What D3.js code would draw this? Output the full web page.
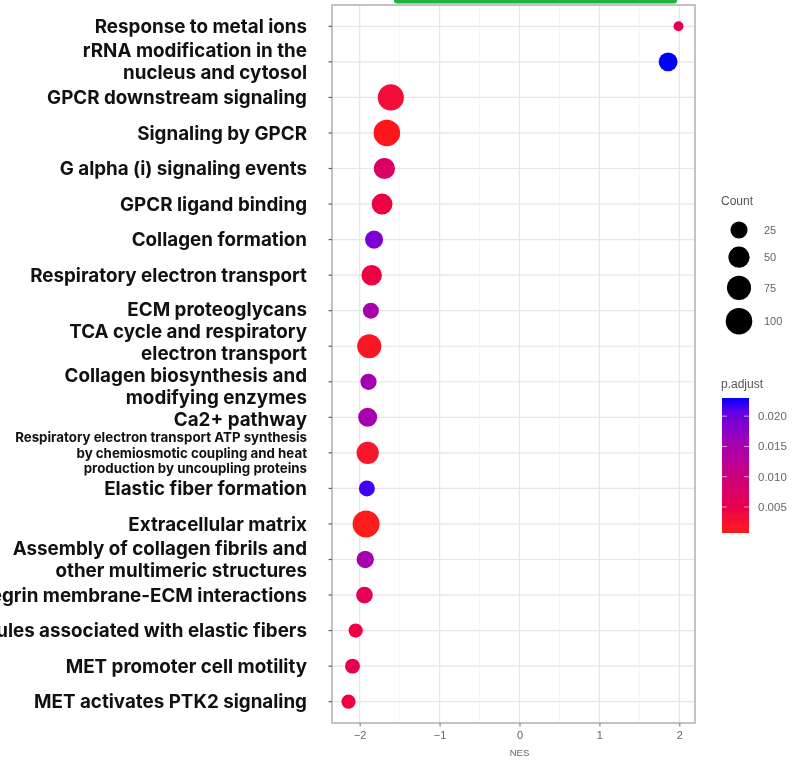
<!DOCTYPE html>
<html>
<head>
<meta charset="utf-8">
<script src="https://cdn.jsdelivr.net/npm/d3@7"></script>
<style>
  html, body { margin: 0; padding: 0; background: #fff; }
  svg { display: block; }
</style>
</head>
<body>
<svg id="chart" width="806" height="765"></svg>
<script>
// Reactome pathways (top to bottom); "\n" marks a line break in the label
const pathways = [
  "Response to metal ions",
  "rRNA modification in the\nnucleus and cytosol",
  "GPCR downstream signaling",
  "Signaling by GPCR",
  "G alpha (i) signaling events",
  "GPCR ligand binding",
  "Collagen formation",
  "Respiratory electron transport",
  "ECM proteoglycans",
  "TCA cycle and respiratory\nelectron transport",
  "Collagen biosynthesis and\nmodifying enzymes",
  "Ca2+ pathway",
  "Respiratory electron transport ATP synthesis\nby chemiosmotic coupling and heat\nproduction by uncoupling proteins",
  "Elastic fiber formation",
  "Extracellular matrix",
  "Assembly of collagen fibrils and\nother multimeric structures",
  "Integrin membrane-ECM interactions",
  "Molecules associated with elastic fibers",
  "MET promoter cell motility",
  "MET activates PTK2 signaling"
];

// Normalised enrichment score
const nes = [1.99, 1.86, -1.61, -1.66, -1.69, -1.72, -1.82, -1.85, -1.86, -1.88,
             -1.89, -1.90, -1.90, -1.91, -1.92, -1.93, -1.94, -2.05, -2.09, -2.14];

// Gene count in each pathway
const counts = [8, 35, 95, 100, 50, 48, 30, 45, 20, 75,
                21, 35, 58, 20, 105, 26, 23, 14, 16, 14];

// Adjusted p-values
const pAdjust = [0.0055, 0.023, 0.003, 0.001, 0.0075, 0.004, 0.019, 0.004, 0.015, 0.0015,
                 0.0155, 0.015, 0.002, 0.022, 0.0007, 0.015, 0.006, 0.004, 0.005, 0.004];

// Axis and legend breaks
const xTicks = [-2, -1, 0, 1, 2];
const xTickLabels = ["\u22122", "\u22121", "0", "1", "2"];
const countBreaks = [25, 50, 75, 100];
const pBreaks = [0.020, 0.015, 0.010, 0.005];
const pBreakLabels = ["0.020", "0.015", "0.010", "0.005"];

const svg = d3.select("#chart");
svg.append("rect").attr("width", 806).attr("height", 765).attr("fill", "#fff");

const defs = svg.append("defs");
defs.append("filter").attr("id", "soft")
  .attr("x", "-5%").attr("y", "-5%").attr("width", "110%").attr("height", "110%")
  .append("feGaussianBlur").attr("stdDeviation", 0.75);

const panel = { left: 332, right: 695, top: 5, bottom: 723 };

// x scale with ggplot-style 5% expansion of the data range
const ext = d3.extent(nes);
const pad = (ext[1] - ext[0]) * 0.05;
const x = d3.scaleLinear().domain([ext[0] - pad, ext[1] + pad]).range([panel.left, panel.right]);
const y = d3.scalePoint().domain(pathways).range([panel.top, panel.bottom]).padding(0.6);

// Size: area-style mapping between data min and max
const cExt = d3.extent(counts);
const unit = d3.scaleLinear().domain(cExt).range([0, 1]).clamp(true);
const rLin = d3.scaleLinear().domain([0, 1]).range([5, 13.5]);
const radius = v => rLin(Math.sqrt(unit(v)));

// Colour: red (low p) to blue (high p), interpolated in Lab
const pExt = d3.extent(pAdjust);
const color = d3.scaleLinear().domain(pExt).range(["#ff1a1a", "#0000ff"]).interpolate(d3.interpolateLab);

const data = pathways.map((p, i) => ({ p, nes: nes[i], count: counts[i], padj: pAdjust[i] }));

// Blurred plotting layer
const plot = svg.append("g").attr("filter", "url(#soft)");

// minor grid
const minor = d3.range(xTicks.length - 1).map(i => (xTicks[i] + xTicks[i + 1]) / 2);
plot.append("g").selectAll("line").data(minor).join("line")
  .attr("x1", d => x(d)).attr("x2", d => x(d))
  .attr("y1", panel.top).attr("y2", panel.bottom)
  .attr("stroke", "#f1f1f1").attr("stroke-width", 0.8);
// major grid
plot.append("g").selectAll("line").data(xTicks).join("line")
  .attr("x1", d => x(d)).attr("x2", d => x(d))
  .attr("y1", panel.top).attr("y2", panel.bottom)
  .attr("stroke", "#e6e6e6").attr("stroke-width", 1.2);
plot.append("g").selectAll("line").data(pathways).join("line")
  .attr("x1", panel.left).attr("x2", panel.right)
  .attr("y1", d => y(d)).attr("y2", d => y(d))
  .attr("stroke", "#e6e6e6").attr("stroke-width", 1.2);

// dots
plot.append("g").selectAll("circle").data(data).join("circle")
  .attr("cx", d => x(d.nes)).attr("cy", d => y(d.p))
  .attr("r", d => radius(d.count))
  .attr("fill", d => color(d.padj));

// panel border
plot.append("rect")
  .attr("x", panel.left).attr("y", panel.top)
  .attr("width", panel.right - panel.left).attr("height", panel.bottom - panel.top)
  .attr("fill", "none").attr("stroke", "#b5b5b5").attr("stroke-width", 1.6);

// y ticks
plot.append("g").selectAll("line").data(pathways).join("line")
  .attr("x1", panel.left - 3.5).attr("x2", panel.left)
  .attr("y1", d => y(d)).attr("y2", d => y(d))
  .attr("stroke", "#666").attr("stroke-width", 1.2);

// x axis
const xAxis = plot.append("g").attr("transform", `translate(0,${panel.bottom})`)
  .call(d3.axisBottom(x).tickValues(xTicks)
    .tickFormat((d, i) => xTickLabels[i]).tickSize(3.5).tickPadding(4.5));
xAxis.select(".domain").remove();
xAxis.selectAll(".tick line").attr("stroke", "#888").attr("stroke-width", 1.2);
xAxis.selectAll(".tick text").attr("fill", "#666")
  .style("font-family", "Liberation Sans, Arial, sans-serif").style("font-size", "11px");

plot.append("text").attr("x", x(0)).attr("y", 755.5)
  .attr("text-anchor", "middle").attr("fill", "#666")
  .style("font-family", "Liberation Sans, Arial, sans-serif").style("font-size", "9.5px")
  .text("NES");

// ---- legends ----
defs.append("clipPath").attr("id", "legendClip")
  .append("rect").attr("x", 700).attr("y", 0).attr("width", 91).attr("height", 765);
const legend = plot.append("g").attr("clip-path", "url(#legendClip)")
  .style("font-family", "Liberation Sans, Arial, sans-serif");

legend.append("text").attr("x", 721).attr("y", 205)
  .attr("fill", "#555").style("font-size", "12px").text("Count");

// stacked size keys
let cy = 221.5;
const keyGap = 8;
countBreaks.forEach(v => {
  const r = radius(v);
  cy += r;
  legend.append("circle").attr("cx", 739).attr("cy", cy).attr("r", r).attr("fill", "#000");
  legend.append("text").attr("x", 764).attr("y", cy).attr("dy", "0.35em")
    .attr("fill", "#666").style("font-size", "11px").text(v);
  cy += r + keyGap;
});

legend.append("text").attr("x", 721).attr("y", 388)
  .attr("fill", "#555").style("font-size", "12px").text("p.adjust");

const bar = { x: 722, y: 398, w: 27, h: 135 };
const cbar = d3.scaleLinear().domain([pExt[1], pExt[0]]).range([bar.y, bar.y + bar.h]);
const grad = defs.append("linearGradient").attr("id", "pgrad")
  .attr("x1", 0).attr("y1", 0).attr("x2", 0).attr("y2", 1);
d3.range(0, 1.0001, 0.1).forEach(t => {
  grad.append("stop").attr("offset", t)
    .attr("stop-color", color(pExt[1] - t * (pExt[1] - pExt[0])));
});
legend.append("rect").attr("x", bar.x).attr("y", bar.y)
  .attr("width", bar.w).attr("height", bar.h).attr("fill", "url(#pgrad)");
pBreaks.forEach((v, i) => {
  const yy = cbar(v);
  legend.append("line").attr("x1", bar.x).attr("x2", bar.x + 5).attr("y1", yy).attr("y2", yy)
    .attr("stroke", "#fff").attr("stroke-opacity", 0.6);
  legend.append("line").attr("x1", bar.x + bar.w - 5).attr("x2", bar.x + bar.w).attr("y1", yy).attr("y2", yy)
    .attr("stroke", "#fff").attr("stroke-opacity", 0.6);
  legend.append("text").attr("x", 758).attr("y", yy).attr("dy", "0.35em")
    .attr("fill", "#666").style("font-size", "11.5px").text(pBreakLabels[i]);
});

// green strip along the top edge
svg.append("rect").attr("x", 394).attr("y", -4).attr("width", 283).attr("height", 7.5)
  .attr("rx", 3).attr("fill", "#1db53b");

// ---- pathway labels (sharp, right-aligned, one text block per pathway) ----
const items = pathways.map(p => {
  const lines = p.split("\n");
  const small = lines.length > 2;
  const lh = small ? 15.5 : 22;
  return { p, lines, fs: small ? 13.3 : 18.8, lh, h: lines.length * lh, c: y(p) };
});
// nudge neighbouring labels apart where their blocks overlap
for (let iter = 0; iter < 200; iter++) {
  for (let i = 0; i < items.length - 1; i++) {
    const a = items[i], b = items[i + 1];
    const ov = (a.c + a.h / 2) - (b.c - b.h / 2);
    if (ov > 0) { a.c -= ov / 2; b.c += ov / 2; }
  }
}
const labels = svg.append("g")
  .style("font-family", "Inter, 'Noto Sans', sans-serif")
  .style("font-weight", 700).attr("fill", "#111");
items.forEach(it => {
  const t = labels.append("text")
    .attr("text-anchor", "end")
    .style("font-size", it.fs + "px");
  it.lines.forEach((ln, k) => {
    t.append("tspan")
      .attr("x", 307)
      .attr("y", it.c - it.h / 2 + it.lh * (k + 0.5))
      .attr("dy", "0.35em")
      .text(ln);
  });
});
</script>
</body>
</html>
